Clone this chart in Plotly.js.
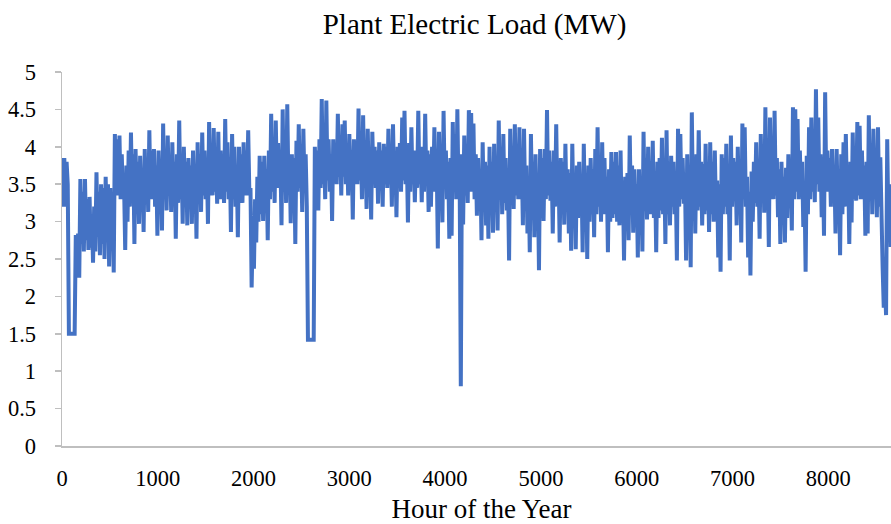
<!DOCTYPE html>
<html>
<head>
<meta charset="utf-8">
<script src="https://cdn.plot.ly/plotly-3.0.1.min.js"></script>
<style>
html, body { margin: 0; padding: 0; overflow: hidden; background: #fff; }
#chart { width: 905px; height: 524px; }
</style>
</head>
<body>
<div id="chart"></div>
<script>
// Readings every 12 hours (daily high, then daily low), hours from start of year
const startHour = 0;
const stepHours = 12;

// Plant electric load (MW), in four parts of the year
const loadQ1 = [
  3.85,3.2, 3.85,3.2, 3.8,3.5, 1.5,1.5, 1.5,1.5, 1.5,1.5, 2.82,2.5, 2.84,2.25, 3.57,2.7, 3.4,2.6,
  3.57,2.75, 3.3,2.62, 3.33,2.65, 3.1,2.45, 3.2,2.6, 3.66,2.8, 3.4,2.55, 3.5,2.7, 3.45,2.5, 3.6,2.75,
  3.5,2.4, 3.45,2.8, 3.3,2.32, 4.17,3.35, 4.1,3.35, 4.15,3.3, 3.9,3.3, 3.5,2.62, 3.75,3.0, 3.95,3.2,
  4.19,3.3, 3.9,2.7, 3.97,3.25, 3.8,2.97, 3.88,3.3, 3.7,2.86, 3.97,3.3, 3.85,3.13, 4.22,3.3, 3.95,3.3,
  3.97,3.2, 3.75,2.81, 3.95,3.25, 3.8,2.88, 4.31,3.3, 3.9,3.15, 4.15,3.35, 3.85,3.13, 4.06,3.3, 3.8,2.77,
  3.9,3.25, 4.35,3.3, 3.85,2.97, 4.0,3.3, 3.8,2.95, 3.85,3.25, 3.75,2.97, 3.95,3.3, 3.7,2.77, 4.06,3.3,
  3.9,3.13, 4.19,3.35, 3.95,3.3, 3.8,2.97, 4.33,3.35, 4.0,3.35, 4.25,3.4, 3.9,3.24, 4.2,3.3, 3.95,3.3,
  3.9,3.25, 4.37,3.4, 4.06,3.3, 3.8,2.86, 4.17,3.3, 4.0,3.2, 3.75,2.79, 4.0,3.25, 3.9,3.25, 4.06,3.35,
  3.95,3.35, 4.22,3.4, 3.45,2.12, 2.9,2.37, 3.3,2.72, 3.6,3.0, 3.88,3.1, 3.8,3.01, 3.88,3.2, 3.7,2.75,
  3.95,3.3
];
const loadQ2 = [
  4.44,3.4, 4.0,3.25, 4.35,3.45, 4.05,3.45, 3.85,2.95, 4.5,3.4, 4.0,3.25, 4.57,3.5, 3.9,2.98,
  3.9,3.3, 3.85,2.7, 4.08,3.4, 4.3,3.45, 3.95,3.13, 4.24,3.45, 3.9,3.2, 1.42,1.42, 1.42,1.42, 1.42,1.42,
  4.0,3.4, 3.95,3.15, 4.1,3.45, 4.64,3.5, 4.0,3.3, 4.62,3.55, 4.1,3.4, 3.9,3.01, 4.1,3.55, 4.05,3.5,
  4.44,3.6, 4.1,3.35, 4.3,3.6, 4.35,3.5, 4.0,3.35, 4.17,3.55, 3.95,3.03, 4.1,3.5, 4.05,3.5, 4.51,3.55,
  4.05,3.3, 4.42,3.5, 3.95,3.17, 4.24,3.5, 3.9,3.03, 4.2,3.55, 4.0,3.45, 3.95,3.24, 4.06,3.5, 3.95,3.2,
  4.04,3.5, 4.0,3.45, 4.24,3.5, 3.95,3.2, 4.3,3.5, 3.9,3.06, 4.0,3.45, 4.05,3.4, 4.39,3.55, 4.48,3.5,
  3.9,2.99, 4.05,3.4, 4.26,3.5, 3.95,3.26, 3.9,3.45, 4.48,3.5, 3.95,3.26, 4.0,3.4, 4.44,3.5, 3.95,3.13,
  3.9,3.2, 4.0,3.4, 4.26,3.45, 3.8,2.64, 4.2,3.4, 3.85,2.99, 4.48,3.45, 3.95,3.3, 3.8,2.77, 3.85,2.81,
  4.33,3.4, 4.17,3.3, 4.5,3.4, 3.6,0.8, 3.9,2.96, 4.15,3.35, 4.0,3.25, 4.49,3.4, 4.45,3.4, 4.31,3.3,
  3.9,3.08, 3.85,3.2
];
const loadQ3 = [
  3.7,2.75, 4.06,3.2, 3.8,2.95, 3.75,2.77, 4.0,3.1, 3.8,2.85, 4.04,3.2, 3.8,2.88,
  4.35,3.3, 4.0,3.1, 4.17,3.25, 3.85,3.15, 3.6,2.48, 4.24,3.3, 3.9,3.17, 4.3,3.35, 4.0,3.3, 4.26,3.3,
  3.85,2.95, 4.24,3.2, 3.75,2.84, 3.6,2.59, 4.17,3.2, 3.8,2.79, 3.9,3.1, 3.6,2.35, 3.97,3.2, 3.85,3.01,
  3.97,3.3, 4.49,3.35, 3.95,3.28, 3.8,2.84, 3.95,3.2, 4.3,3.25, 3.75,2.72, 3.85,3.1, 3.8,2.96, 4.04,3.15,
  3.7,2.84, 3.65,2.61, 4.04,3.1, 3.6,2.63, 3.75,3.05, 3.8,3.1, 3.6,2.59, 4.04,3.1, 3.65,2.5, 3.75,3.0,
  3.85,3.1, 3.7,2.79, 3.97,3.1, 4.26,3.2, 3.8,3.0, 4.06,3.1, 3.85,3.1, 3.6,2.59, 3.7,3.0, 3.93,3.05,
  3.8,3.1, 3.93,3.0, 3.75,2.95, 3.95,3.0, 3.55,2.48, 3.6,3.0, 3.65,2.75, 4.15,3.1, 3.75,2.85, 3.7,3.0,
  3.5,2.52, 3.7,3.0, 3.55,2.6, 4.2,3.15, 3.85,3.03, 4.0,3.1, 3.8,3.1, 4.08,3.05, 3.6,2.59, 3.8,3.05,
  3.85,3.15, 4.12,3.1, 3.7,2.7, 4.22,3.1, 3.8,2.95, 3.88,3.2, 3.8,3.1, 3.55,2.48, 4.24,3.2, 4.17,3.3,
  3.85,3.24, 3.6,2.48, 3.9,3.0
];
const loadQ4 = [
  3.55,2.39, 4.46,3.2, 3.75,2.84, 3.9,3.15, 4.22,3.2, 3.8,2.95, 3.77,3.1, 4.04,3.15, 3.75,2.86,
  4.06,3.1, 3.8,3.0, 3.95,3.1, 3.55,2.52, 3.5,2.33, 3.9,3.1, 3.85,3.2, 4.04,3.1, 3.6,2.48, 4.15,3.2,
  3.85,3.3, 3.8,2.95, 4.0,3.2, 3.75,2.72, 4.31,3.3, 4.26,3.2, 3.6,2.52, 3.4,2.28, 3.67,3.0, 3.8,3.25,
  4.06,3.2, 3.75,2.77, 4.17,3.3, 3.9,3.12, 4.53,3.3, 3.7,2.66, 4.39,3.3, 3.95,3.3, 4.48,3.35, 3.85,3.06,
  3.7,2.7, 3.8,3.1, 3.6,2.72, 3.72,3.05, 3.9,3.2, 3.75,2.88, 4.53,3.3, 4.5,3.4, 4.37,3.3, 3.95,3.37,
  3.8,2.93, 3.5,2.33, 3.88,3.1, 4.26,3.3, 4.39,3.4, 3.95,3.26, 4.77,3.5, 4.39,3.4, 3.9,3.06, 3.75,2.81,
  4.73,3.4, 3.95,3.4, 3.85,3.2, 3.97,3.3, 3.75,2.84, 3.97,3.2, 3.6,2.55, 3.9,3.1, 4.06,3.2, 4.17,3.3,
  3.75,2.7, 3.8,2.99, 4.19,3.3, 3.95,3.28, 4.33,3.35, 4.28,3.3, 3.95,3.3, 3.75,2.81, 3.8,2.84, 4.42,3.3,
  4.0,3.1, 4.24,3.3, 3.9,3.06, 4.26,3.2, 3.86,2.6, 2.4,1.85, 2.2,1.75, 4.1,3.0, 3.5,2.66
];
const loadMW = loadQ1.concat(loadQ2, loadQ3, loadQ4);

// Axis settings
const xTickStep = 1000;
const yTickStep = 0.5;
const xMax = 8760;
const yMax = 5;

const serif = 'Liberation Serif, Times New Roman, serif';

const trace = {
  type: 'scatter',
  mode: 'lines',
  x0: startHour,
  dx: stepHours,
  y: loadMW,
  line: { color: '#4472C4', width: 4 },
  hoverinfo: 'skip'
};

const layout = {
  width: 905,
  height: 524,
  margin: { l: 62, r: 4, t: 72, b: 78 },
  paper_bgcolor: '#ffffff',
  plot_bgcolor: '#ffffff',
  showlegend: false,
  font: { family: serif, color: '#000000' },
  title: {
    text: 'Plant Electric Load (MW)',
    font: { family: serif, size: 29, color: '#000000' },
    xref: 'container', x: 474.5 / 905, xanchor: 'center',
    yref: 'container', y: 1 - 24 / 524, yanchor: 'middle'
  },
  xaxis: {
    range: [0, xMax],
    tick0: 0,
    dtick: xTickStep,
    showgrid: false,
    zeroline: false,
    showline: true,
    linecolor: '#bfbfbf',
    linewidth: 1.5,
    ticks: '',
    ticklabelstandoff: 11,
    tickfont: { family: serif, size: 22.5, color: '#000000' },
    title: { text: 'Hour of the Year', font: { family: serif, size: 27, color: '#000000' }, standoff: 9 },
    automargin: false,
    fixedrange: true
  },
  yaxis: {
    range: [0, yMax],
    tick0: 0,
    dtick: yTickStep,
    showgrid: false,
    zeroline: false,
    showline: true,
    linecolor: '#bfbfbf',
    linewidth: 1.5,
    ticks: 'outside',
    ticklen: 6,
    tickwidth: 1.5,
    tickcolor: '#bfbfbf',
    ticklabelstandoff: 14,
    tickfont: { family: serif, size: 22.5, color: '#000000' },
    automargin: false,
    fixedrange: true
  }
};

Plotly.newPlot('chart', [trace], layout, { displayModeBar: false, staticPlot: true });
</script>
</body>
</html>
